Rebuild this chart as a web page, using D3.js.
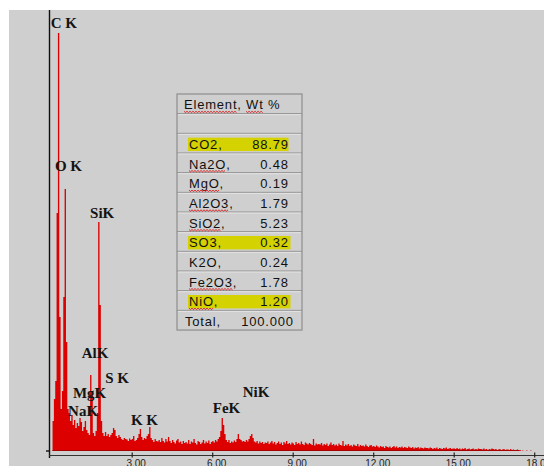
<!DOCTYPE html>
<html><head><meta charset="utf-8">
<script src="https://cdn.jsdelivr.net/npm/d3@7"></script>
<style>html,body{margin:0;padding:0;background:#fff;overflow:hidden}</style>
</head><body><svg id="c" width="544" height="466"></svg>
<script>
// ---- data ----
const channelWidth = 0.05; // keV per channel
const counts = [
  0, 300, 520, 700, 2380, 4180, 1340, 420, 600, 1540, 2620, 1090, 420, 380, 300, 360, 260, 310, 230, 280,
  250, 330, 290, 200, 240, 300, 210, 180, 160, 760, 600, 180, 150, 200, 380, 2290, 1460, 300, 180, 150,
  190, 150, 170, 140, 160, 180, 230, 210, 150, 130, 160, 140, 120, 110, 130, 120, 115, 100, 125, 110,
  120, 150, 100, 110, 130, 170, 220, 140, 110, 130, 120, 150, 170, 240, 130, 110, 90, 120, 100, 95,
  110, 90, 130, 100, 85, 120, 95, 140, 100, 80, 110, 90, 75, 105, 120, 85, 95, 70, 100, 80,
  90, 75, 110, 70, 95, 85, 120, 80, 65, 100, 90, 70, 85, 110, 75, 95, 80, 105, 70, 90,
  100, 85, 110, 95, 120, 140, 200, 330, 260, 170, 110, 90, 110, 80, 95, 85, 105, 90, 120, 170,
  120, 110, 95, 100, 90, 110, 95, 120, 150, 170, 130, 95, 85, 100, 75, 95, 80, 90, 70, 85,
  80, 95, 70, 85, 100, 75, 90, 65, 80, 95, 70, 85, 60, 90, 75, 100, 70, 80, 65, 85,
  75, 60, 90, 70, 80, 65, 95, 70, 60, 85, 75, 65, 80, 70, 60, 120, 55, 75, 65, 70,
  65, 80, 55, 70, 60, 75, 50, 65, 85, 60, 70, 55, 65, 50, 75, 60, 55, 100, 50, 65,
  55, 70, 50, 60, 45, 65, 55, 50, 70, 45, 60, 50, 55, 45, 65, 50, 40, 55, 60, 45,
  50, 40, 55, 45, 35, 50, 40, 45, 30, 50, 40, 35, 45, 30, 40, 50, 35, 45, 30, 40,
  35, 45, 30, 40, 35, 30, 45, 35, 30, 40, 25, 35, 30, 40, 25, 35, 30, 25, 35, 30,
  30, 25, 35, 30, 20, 30, 25, 35, 20, 30, 25, 20, 30, 25, 35, 20, 25, 30, 20, 25,
  25, 20, 30, 20, 25, 15, 25, 20, 30, 15, 20, 25, 15, 20, 25, 15, 20, 15, 25, 20,
  20, 15, 25, 15, 20, 10, 20, 15, 25, 20, 15, 20, 10, 15, 20, 10, 15, 20, 10, 15,
  15, 10, 20, 10, 15, 10, 10, 15, 5, 10, 0, 5, 0, 0, 5, 0, 0, 5, 0, 0,
  0
];
const xTickValues = [3, 6, 9, 12, 15, 18];
const peakNames = ["C K", "O K", "SiK", "AlK", "S K", "MgK", "NaK", "K K", "FeK", "NiK"];
const peakLabelKeV = [-0.02, 0.14, 1.45, 1.14, 2.01, 0.81, 0.63, 2.97, 6.02, 7.14];
const peakLabelCounts = [4230, 2800, 2330, 930, 680, 530, 350, 260, 380, 545];
const tableHeader = "Element, Wt %";
const tableElements = ["CO2", "Na2O", "MgO", "Al2O3", "SiO2", "SO3", "K2O", "Fe2O3", "NiO"];
const tableWt = ["88.79", "0.48", "0.19", "1.79", "5.23", "0.32", "0.24", "1.78", "1.20"];
const highlighted = ["CO2", "SO3", "NiO"];
const spellFlagged = ["Na2O", "MgO", "Al2O3", "SiO2", "Fe2O3", "NiO"];
const totalLabel = "Total,";
const totalValue = "100.000";

// ---- drawing ----
const svg = d3.select("#c");
svg.append("rect").attr("width", 544).attr("height", 466).attr("fill", "#fff");
svg.append("rect").attr("x", 9).attr("y", 10).attr("width", 535).attr("height", 456).attr("fill", "#cfcfcf");

const x = d3.scaleLinear().domain([0, 18]).range([51.2, 534.2]);
const y = d3.scaleLinear().domain([0, 4410]).range([451, 10]);

const area = d3.area()
  .x((d, i) => x(i * channelWidth))
  .y0(y(0))
  .y1(d => y(d))
  .curve(d3.curveStepAfter);
svg.append("path").datum(counts).attr("d", area).attr("fill", "#dc0000");
svg.append("line").attr("x1", x(0.05)).attr("x2", x(17.45)).attr("y1", 450.5).attr("y2", 450.5)
  .attr("stroke", "#a80000").attr("stroke-width", 1);

// axes
svg.append("line").attr("x1", 49.5).attr("x2", 49.5).attr("y1", 10).attr("y2", 458)
  .attr("stroke", "#111").attr("stroke-width", 1.4);
svg.append("line").attr("x1", 46).attr("x2", 49.5).attr("y1", 451).attr("y2", 451)
  .attr("stroke", "#111").attr("stroke-width", 1.4);

const xAxis = d3.axisBottom(x).tickValues(xTickValues).tickFormat(d3.format(".2f")).tickSizeOuter(0).tickSizeInner(2);
const gx = svg.append("g").attr("transform", "translate(0,455.5)").call(xAxis);
gx.select(".domain").remove();
gx.insert("line", ":first-child").attr("x1", 49).attr("x2", 544).attr("y1", 0).attr("y2", 0)
  .attr("stroke", "#333").attr("stroke-width", 1);
gx.selectAll(".tick line").attr("y1", -3).attr("y2", 2).attr("stroke", "#222").attr("stroke-width", 1.2);
gx.selectAll(".tick text").attr("y", 4.5).attr("dx", 4).attr("fill", "#222")
  .style("font-family", "'Liberation Sans', Arial, sans-serif").style("font-size", "10px");

// peak labels
svg.append("g").selectAll("text").data(peakNames).join("text")
  .attr("x", (d, i) => x(peakLabelKeV[i]))
  .attr("y", (d, i) => y(peakLabelCounts[i]))
  .attr("fill", "#141414")
  .style("font-family", "'Liberation Serif', 'Times New Roman', serif")
  .style("font-weight", "bold").style("font-size", "15px")
  .text(d => d);

// table
const tb = { x0: 177, x1: 302, y0: 94, rowH: 19.67 };
const nRows = tableElements.length + 3;
const tg = svg.append("g");
for (let k = 1; k < nRows; k++) {
  const yy = tb.y0 + k * tb.rowH;
  tg.append("line").attr("x1", tb.x0).attr("x2", tb.x1).attr("y1", yy).attr("y2", yy).attr("stroke", "#8e8e8e");
  tg.append("line").attr("x1", tb.x0 + 1).attr("x2", tb.x1 - 1).attr("y1", yy + 1).attr("y2", yy + 1).attr("stroke", "#e4e4e4");
}
tg.append("rect").attr("x", tb.x0).attr("y", tb.y0).attr("width", tb.x1 - tb.x0).attr("height", nRows * tb.rowH)
  .attr("fill", "none").attr("stroke", "#8e8e8e").attr("stroke-width", 1.2);

const fontT = "'Liberation Sans', Arial, sans-serif";
function squiggle(x0, x1, yy) {
  let p = "M" + x0 + "," + yy;
  let up = true;
  for (let xx = x0 + 1.5; xx <= x1; xx += 1.5) { p += "L" + xx + "," + (yy + (up ? 1.3 : 0)); up = !up; }
  tg.append("path").attr("d", p).attr("fill", "none").attr("stroke", "#e00000").attr("stroke-width", 0.8);
}
function txt(s, xx, yy, anchor) {
  return tg.append("text").attr("x", xx).attr("y", yy).attr("text-anchor", anchor || "start")
    .attr("fill", "#111").style("font-family", fontT).style("font-size", "13px").style("letter-spacing", "0.8px").text(s);
}
// header
const hy = tb.y0 + 15.3;
const ht = txt(tableHeader, 184, hy);
{
  const n = ht.node();
  squiggle(n.getStartPositionOfChar(0).x, n.getEndPositionOfChar(6).x, hy + 2);
  squiggle(n.getStartPositionOfChar(9).x, n.getEndPositionOfChar(10).x, hy + 2);
}
tableElements.forEach((el, i) => {
  const top = tb.y0 + (i + 2) * tb.rowH;
  const by = top + 15.5;
  if (highlighted.includes(el)) {
    tg.append("rect").attr("x", 188).attr("y", top + 4.3).attr("width", el === "CO2" ? 100.5 : 102.5).attr("height", 13.4).attr("fill", "#d4d200");
  }
  const t = txt(el + ",", 189, by);
  txt(tableWt[i], 288.8, by, "end");
  if (spellFlagged.includes(el)) {
    const n = t.node();
    squiggle(n.getStartPositionOfChar(0).x, n.getEndPositionOfChar(el.length - 1).x, by + 2);
  }
});
const tty = tb.y0 + (nRows - 1) * tb.rowH + 15.5;
txt(totalLabel, 185, tty);
txt(totalValue, 293.8, tty, "end");
</script></body></html>
